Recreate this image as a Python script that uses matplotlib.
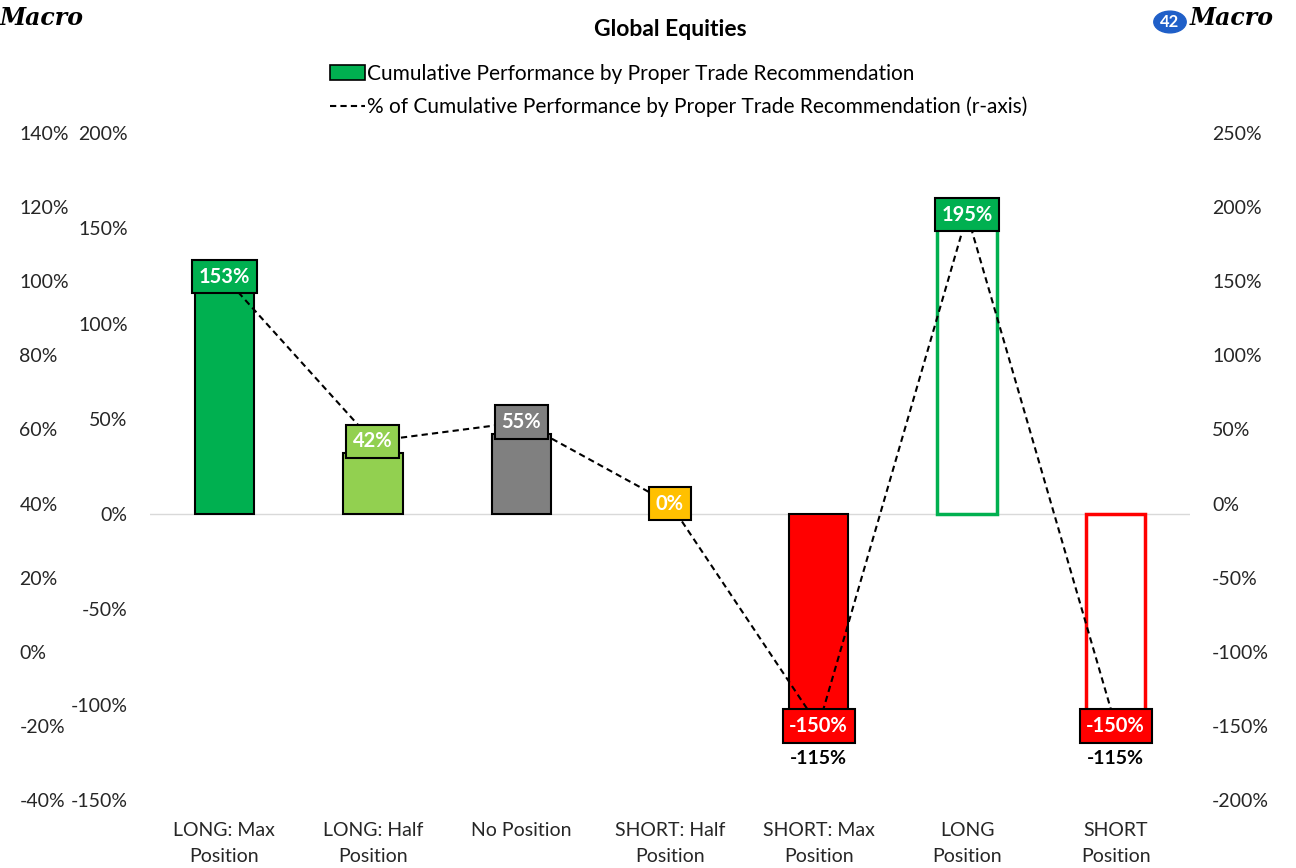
import matplotlib.pyplot as plt
from matplotlib.patches import Patch, Circle
from matplotlib.lines import Line2D

plt.rcParams['font.family'] = ['Lato', 'DejaVu Sans']

# data
categories = ['LONG: Max\nPosition', 'LONG: Half\nPosition', 'No Position',
              'SHORT: Half\nPosition', 'SHORT: Max\nPosition', 'LONG\nPosition',
              'SHORT\nPosition']
bar_values = [125, 32, 42, 0, -115, 155, -115]
line_values = [153, 42, 55, 0, -150, 195, -150]
bar_labels = [None, None, None, None, '-115%', None, '-115%']

bar_colors = ['#00B050', '#92D050', '#808080', '#FFC000', '#FF0000', 'white', 'white']
bar_edges = ['black', 'black', 'black', 'black', 'black', '#00B050', '#FF0000']
box_colors = ['#00B050', '#92D050', '#808080', '#FFC000', '#FF0000', '#00B050', '#FF0000']

fig = plt.figure(figsize=(12.96, 8.68), dpi=100)
ax = fig.add_axes([150 / 1296, 1 - 800 / 868, 1040 / 1296, 667 / 868])
ax2 = ax.twinx()
ax3 = ax.twinx()

x = range(len(categories))
ax.axhline(0, color='#d9d9d9', lw=1, zorder=1)
for i in x:
    lw = 1.5 if bar_edges[i] == 'black' else 2.5
    if bar_values[i] != 0:
        ax.bar(i, bar_values[i], width=0.4, color=bar_colors[i],
               edgecolor=bar_edges[i], linewidth=lw, zorder=2)
    if bar_labels[i]:
        ax.annotate(bar_labels[i], (i, bar_values[i]), xytext=(0, -12),
                    textcoords='offset points', ha='center', va='top',
                    fontsize=14, fontweight='bold', zorder=5)

ax.set_xlim(-0.5, len(categories) - 0.5)
ax.set_ylim(-150, 200)
ax.set_yticks(range(-150, 201, 50))
ax.set_yticklabels([f'{v}%' for v in range(-150, 201, 50)])
ax.set_xticks(list(x))
ax.set_xticklabels(categories, fontsize=14, linespacing=1.6)

ax2.plot(list(x), line_values, color='black', ls='--', lw=1.5,
         dashes=(3, 2), zorder=3)
for i in x:
    ax2.text(i, line_values[i], f'{line_values[i]}%', ha='center', va='center',
             color='white', fontsize=14.5, fontweight='bold', zorder=6,
             bbox=dict(boxstyle='square,pad=0.33', fc=box_colors[i], ec='black', lw=1.5))
ax2.set_ylim(-200, 250)
ax2.set_yticks(range(-200, 251, 50))
ax2.set_yticklabels([f'{v}%' for v in range(-200, 251, 50)])

ax3.set_ylim(-40, 140)
ax3.yaxis.tick_left()
ax3.set_yticks(range(-40, 141, 20))
ax3.set_yticklabels([f'{v}%' for v in range(-40, 141, 20)], ha='left')

ax2.set_zorder(ax.get_zorder() + 1)
for a in (ax, ax2, ax3):
    for s in a.spines.values():
        s.set_visible(False)
    a.patch.set_visible(False)
ax.tick_params(axis='both', length=0, labelsize=14, colors='#262626')
ax.tick_params(axis='x', pad=16)
ax.tick_params(axis='y', pad=16)
ax2.tick_params(axis='y', length=0, labelsize=14, colors='#262626', pad=16)
ax3.tick_params(axis='y', length=0, labelsize=14, colors='#262626', pad=94)

fig.text(670 / 1296, 1 - 29 / 868, 'Global Equities', ha='center', va='center',
         fontsize=16.5, fontweight='bold')

handles = [Patch(facecolor='#00B050', edgecolor='black', linewidth=1.2),
           Line2D([0], [0], color='black', ls='--', lw=1.5, dashes=(3, 2))]
labels = ['Cumulative Performance by Proper Trade Recommendation',
          '% of Cumulative Performance by Proper Trade Recommendation (r-axis)']
fig.legend(handles, labels, loc='upper left', bbox_to_anchor=(0.24, 0.948),
           frameon=False, fontsize=15, handlelength=1.7, handletextpad=0.1,
           labelspacing=0.6)

# logos
fig.text(0.0, 1 - 18 / 868, 'Macro', fontsize=17, fontstyle='italic',
         fontweight='bold', family='DejaVu Serif', va='center', ha='left')
fig.add_artist(Circle((1170 / 1296, 1 - 22 / 868), 0.0125, transform=fig.transFigure,
                      color='#1F5FC8'))
fig.text(1170 / 1296, 1 - 22 / 868, '42', color='white', fontsize=12,
         fontweight='bold', ha='center', va='center')
fig.text(1190 / 1296, 1 - 18 / 868, 'Macro', fontsize=17, fontstyle='italic',
         fontweight='bold', family='DejaVu Serif', va='center', ha='left')

fig.savefig('out.png', dpi=100)
